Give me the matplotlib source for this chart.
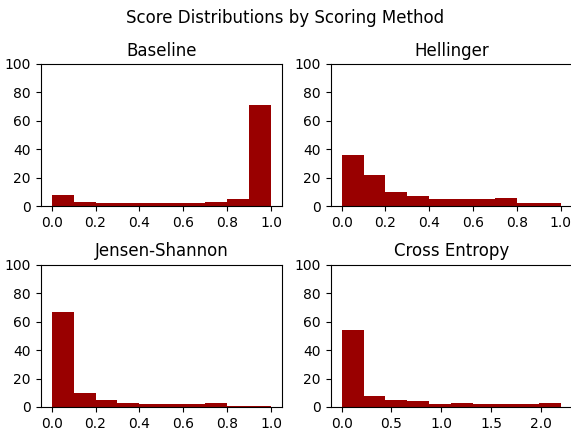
import numpy as np
import matplotlib.pyplot as plt
from matplotlib.ticker import MultipleLocator

titles = ["Baseline", "Hellinger", "Jensen-Shannon", "Cross Entropy"]

# bin counts (10 bins each)
baseline_counts = [8, 3, 2, 2, 2, 2, 2, 3, 5, 71]
hellinger_counts = [36, 22, 10, 7, 5, 5, 5, 6, 2, 2]
js_counts = [67, 10, 5, 3, 2, 2, 2, 3, 1, 1]
ce_counts = [54, 8, 5, 4, 2, 3, 2, 2, 2, 3]

# value ranges of each score
ranges = [(0.0, 1.0), (0.0, 1.0), (0.0, 1.0), (0.0, 2.2)]
xsteps = [0.2, 0.2, 0.2, 0.5]

all_counts = [baseline_counts, hellinger_counts, js_counts, ce_counts]

fig, axes = plt.subplots(2, 2, figsize=(5.71, 4.3), dpi=100)
fig.suptitle("Score Distributions by Scoring Method")

for ax, title, counts, (lo, hi), step in zip(axes.flat, titles, all_counts, ranges, xsteps):
    edges = np.linspace(lo, hi, len(counts) + 1)
    centers = (edges[:-1] + edges[1:]) / 2
    ax.hist(centers, bins=edges, weights=counts, color="#990000")
    ax.set_title(title)
    ax.set_ylim(0, 100)
    ax.yaxis.set_major_locator(MultipleLocator(20))
    ax.xaxis.set_major_locator(MultipleLocator(step))

# the original was cropped a little on the right
plt.subplots_adjust(left=0.0713, right=1.0015, bottom=0.0535, top=0.8512,
                    wspace=0.202, hspace=0.412)
plt.savefig("out.png")
